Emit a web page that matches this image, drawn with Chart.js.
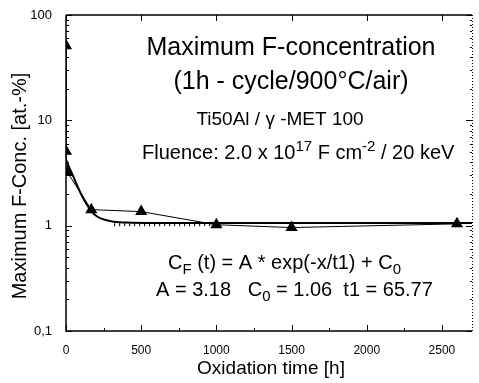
<!DOCTYPE html>
<html>
<head>
<meta charset="utf-8">
<script src="https://cdn.jsdelivr.net/npm/chart.js@4"></script>
<style>
  body { margin: 0; background: #fff; }
  #chart { display: block; }
</style>
</head>
<body>
<canvas id="chart" width="479" height="383"></canvas>
<script>
// Measured maximum F-concentration vs oxidation time
const timeHours = [0, 0, 10, 168, 500, 1000, 1500, 2600];
const concMeasured = [51, 5.1, 3.2, 1.42, 1.36, 1.02, 0.96, 1.04];

// Exponential fit curve
const fitTime = [0, 25, 50, 75, 100, 150, 200, 300, 400, 600, 1000, 1500, 2000, 2700];
const fitConc = [4.2, 3.5, 2.9, 2.4, 2.0, 1.5, 1.24, 1.1, 1.07, 1.06, 1.06, 1.06, 1.06, 1.06];

// dotted guide line near C0
const guideTime = [320, 1050];
const guideConc = [1.02, 1.02];

const xTicks = [0, 500, 1000, 1500, 2000, 2500];
const yTicks = [0.1, 1, 10, 100];
const yTickLabels = ['0,1', '1', '10', '100'];

const FONT = '"Liberation Sans", Arial, sans-serif';

function pts(xs, ys) {
  return xs.map((x, i) => ({ x: x, y: ys[i] }));
}

// draw text with superscript / subscript pieces
function drawRich(ctx, parts, x, y, size) {
  let cx = x;
  parts.forEach(p => {
    const s = p.sup || p.sub ? size * 0.75 : size;
    ctx.font = s + 'px ' + FONT;
    let dy = 0;
    if (p.sup) dy = -size * 0.42;
    if (p.sub) dy = size * 0.25;
    ctx.fillText(p.t, cx, y + dy);
    cx += ctx.measureText(p.t).width;
  });
}

const framePlugin = {
  id: 'frame',
  afterDraw(chart) {
    const ctx = chart.ctx;
    const a = chart.chartArea;
    const xs = chart.scales.x;
    const ys = chart.scales.y;
    ctx.save();
    ctx.strokeStyle = '#000';
    ctx.fillStyle = '#000';
    ctx.lineWidth = 1.5;

    // left, bottom, top axes
    ctx.beginPath();
    ctx.moveTo(a.left, a.top); ctx.lineTo(a.left, a.bottom);
    ctx.lineTo(a.right, a.bottom);
    ctx.moveTo(a.left, a.top); ctx.lineTo(a.right, a.top);
    ctx.stroke();

    // right axis, dotted
    ctx.lineWidth = 1;
    ctx.setLineDash([1, 2]);
    ctx.beginPath();
    ctx.moveTo(a.right + 0.5, a.top); ctx.lineTo(a.right + 0.5, a.bottom);
    ctx.stroke();
    ctx.setLineDash([]);

    ctx.lineWidth = 1;
    ctx.beginPath();
    // x ticks
    xTicks.forEach(v => {
      const px = Math.round(xs.getPixelForValue(v)) + 0.5;
      ctx.moveTo(px, a.bottom); ctx.lineTo(px, a.bottom - 6);
      ctx.moveTo(px, a.top); ctx.lineTo(px, a.top + 6);
      const m = Math.round(xs.getPixelForValue(v + 250)) + 0.5;
      if (v + 250 < xs.max) { ctx.moveTo(m, a.bottom); ctx.lineTo(m, a.bottom - 3); }
    });
    // y ticks
    yTicks.forEach((v, i) => {
      const py = Math.round(ys.getPixelForValue(v)) + 0.5;
      ctx.moveTo(a.left, py); ctx.lineTo(a.left + 6, py);
      ctx.moveTo(a.right, py); ctx.lineTo(a.right - 6, py);
      if (i < yTicks.length - 1) {
        for (let k = 2; k <= 9; k++) {
          const my = Math.round(ys.getPixelForValue(v * k)) + 0.5;
          ctx.moveTo(a.left, my); ctx.lineTo(a.left + 3, my);
          ctx.moveTo(a.right, my); ctx.lineTo(a.right - 2, my);
        }
      }
    });
    ctx.stroke();

    // axis titles
    ctx.textBaseline = 'middle';
    ctx.textAlign = 'center';
    ctx.font = '19px ' + FONT;
    ctx.fillText('Oxidation time [h]', (a.left + a.right) / 2 + 2, 369);
    ctx.save();
    ctx.translate(20, 186);
    ctx.rotate(-Math.PI / 2);
    ctx.font = '20px ' + FONT;
    ctx.fillText('Maximum F-Conc. [at.-%]', 0, 0);
    ctx.restore();

    // annotations
    ctx.font = '25px ' + FONT;
    ctx.fillText('Maximum F-concentration', 291, 48);
    ctx.fillText('(1h - cycle/900°C/air)', 291, 82);
    ctx.font = '19px ' + FONT;
    ctx.fillText('Ti50Al / \u03b3 -MET 100', 280, 120);

    ctx.textAlign = 'left';
    ctx.textBaseline = 'alphabetic';
    drawRich(ctx, [
      { t: 'Fluence: 2.0 x 10' }, { t: '17', sup: true },
      { t: ' F cm' }, { t: '-2', sup: true }, { t: ' / 20 keV' }
    ], 142, 159, 20);
    drawRich(ctx, [
      { t: 'C' }, { t: 'F', sub: true }, { t: ' (t) = A * exp(-x/t1) + C' }, { t: '0', sub: true }
    ], 168, 269, 20);
    drawRich(ctx, [
      { t: 'A = 3.18   C' }, { t: '0', sub: true }, { t: ' = 1.06  t1 = 65.77' }
    ], 156, 296, 20);
    ctx.restore();
  }
};

new Chart(document.getElementById('chart'), {
  type: 'scatter',
  data: {
    datasets: [
      {
        label: 'measured',
        data: pts(timeHours, concMeasured),
        showLine: true,
        borderColor: '#000',
        borderWidth: 1,
        backgroundColor: '#000',
        pointStyle: 'triangle',
        pointRadius: 7,
        pointBorderWidth: 0
      },
      {
        label: 'fit',
        data: pts(fitTime, fitConc),
        showLine: true,
        borderColor: '#000',
        borderWidth: 2,
        pointRadius: 0,
        cubicInterpolationMode: 'monotone'
      },
      {
        label: 'C0',
        data: pts(guideTime, guideConc),
        showLine: true,
        borderColor: '#000',
        borderWidth: 3,
        borderDash: [1, 4],
        pointRadius: 0
      }
    ]
  },
  options: {
    responsive: false,
    animation: false,
    devicePixelRatio: 1,
    layout: { padding: { top: 15, right: 4, left: 0, bottom: 0 } },
    plugins: { legend: { display: false }, tooltip: { enabled: false } },
    scales: {
      x: {
        type: 'linear',
        min: 0,
        max: 2700,
        grid: { display: false },
        border: { display: false },
        afterBuildTicks: s => { s.ticks = xTicks.map(v => ({ value: v })); },
        afterFit: s => { s.height = 52; },
        ticks: {
          color: '#000',
          font: { family: FONT, size: 12 },
          padding: 4,
          maxRotation: 0,
          callback: v => String(v)
        }
      },
      y: {
        type: 'logarithmic',
        min: 0.1,
        max: 100,
        grid: { display: false },
        border: { display: false },
        afterBuildTicks: s => { s.ticks = yTicks.map(v => ({ value: v })); },
        afterFit: s => { s.width = 66; },
        ticks: {
          color: '#000',
          font: { family: FONT, size: 13 },
          padding: 6,
          callback: (v, i) => yTickLabels[i]
        }
      }
    }
  },
  plugins: [framePlugin]
});
</script>
</body>
</html>
